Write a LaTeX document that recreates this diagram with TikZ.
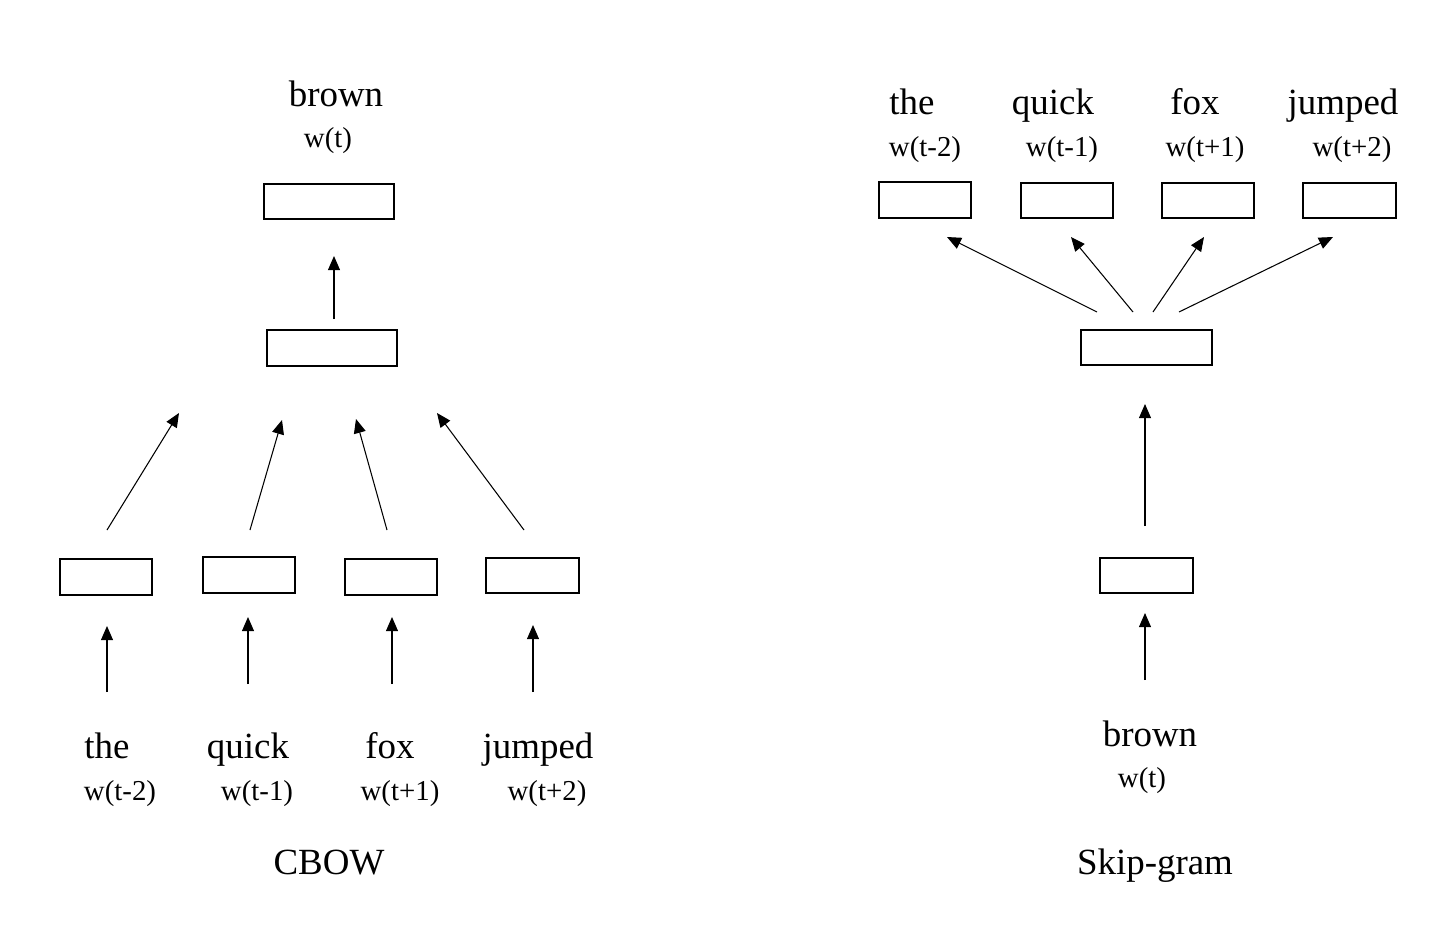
\documentclass[tikz,border=0pt]{standalone}
\usepackage{fontspec}
\setmainfont{Liberation Serif}
\usetikzlibrary{arrows.meta}
\begin{document}
\begin{tikzpicture}[x=0.01cm,y=-0.01cm,
  wbox/.style={draw,line width=0.6pt,minimum width=26.2pt,minimum height=10.2pt,inner sep=0pt,anchor=center},
  hbox/.style={draw,line width=0.6pt,minimum width=37pt,minimum height=10.2pt,inner sep=0pt,anchor=center},
  bigw/.style={font=\fontsize{10.5}{12}\selectfont,inner sep=0pt,anchor=base},
  smallw/.style={font=\fontsize{8.2}{10}\selectfont,inner sep=0pt,anchor=base},
  arr/.style={line width=0.3pt,-{Triangle[length=4pt,width=3.4pt]}}]
\useasboundingbox (0,0) rectangle (1453,951);
% ---------- CBOW ----------
\node[hbox] (ch) at (329,201.5) {};
\node[hbox] (cm) at (332,348) {};
\node[wbox] (c1) at (106,577) {};
\node[wbox] (c2) at (249,575) {};
\node[wbox] (c3) at (391,577) {};
\node[wbox] (c4) at (532.5,575.5) {};
\node[bigw] (cbrown) at (336,106) {brown};
\node[smallw] (cwt) at (328,147) {w(t)};
\node[bigw] (cthe) at (107,758) {the};
\node[bigw] (cquick) at (248,758) {quick};
\node[bigw] (cfox) at (390,758) {fox};
\node[bigw] (cjumped) at (538,758) {jumped};
\node[smallw] (cw1) at (120,800) {w(t-2)};
\node[smallw] (cw2) at (257,800) {w(t-1)};
\node[smallw] (cw3) at (400,800) {w(t+1)};
\node[smallw] (cw4) at (547,800) {w(t+2)};
\node[bigw] (cbow) at (329,874) {CBOW};
\coordinate (ca0) at (334,319); \coordinate (ca1) at (334,256);
\coordinate (cd1s) at (107,530); \coordinate (cd1e) at (179,413);
\coordinate (cd2s) at (250,530); \coordinate (cd2e) at (282,420);
\coordinate (cd3s) at (387,530); \coordinate (cd3e) at (356,419);
\coordinate (cd4s) at (524,530); \coordinate (cd4e) at (437,413);
\coordinate (cv1s) at (107,692); \coordinate (cv1e) at (107,626);
\coordinate (cv2s) at (248,684); \coordinate (cv2e) at (248,617);
\coordinate (cv3s) at (392,684); \coordinate (cv3e) at (392,617);
\coordinate (cv4s) at (533,692); \coordinate (cv4e) at (533,625);
\draw[arr] (ca0) -- (ca1);
\draw[arr] (cd1s) -- (cd1e);
\draw[arr] (cd2s) -- (cd2e);
\draw[arr] (cd3s) -- (cd3e);
\draw[arr] (cd4s) -- (cd4e);
\draw[arr] (cv1s) -- (cv1e);
\draw[arr] (cv2s) -- (cv2e);
\draw[arr] (cv3s) -- (cv3e);
\draw[arr] (cv4s) -- (cv4e);
% ---------- Skip-gram ----------
\node[wbox] (s1) at (925,200) {};
\node[wbox] (s2) at (1067,200.5) {};
\node[wbox] (s3) at (1208,200.5) {};
\node[wbox] (s4) at (1349.5,200.5) {};
\node[hbox] (sm) at (1146.5,347.5) {};
\node[wbox] (sl) at (1146.5,575.5) {};
\node[bigw] (sthe) at (912,114) {the};
\node[bigw] (squick) at (1053,114) {quick};
\node[bigw] (sfox) at (1195,114) {fox};
\node[bigw] (sjumped) at (1343,114) {jumped};
\node[smallw] (sw1) at (925,156) {w(t-2)};
\node[smallw] (sw2) at (1062,156) {w(t-1)};
\node[smallw] (sw3) at (1205,156) {w(t+1)};
\node[smallw] (sw4) at (1352,156) {w(t+2)};
\node[bigw] (sbrown) at (1150,746) {brown};
\node[smallw] (swt) at (1142,787) {w(t)};
\node[bigw] (skip) at (1155,874) {Skip-gram};
\coordinate (sd1s) at (1097,312); \coordinate (sd1e) at (947,237);
\coordinate (sd2s) at (1133,312); \coordinate (sd2e) at (1071,237);
\coordinate (sd3s) at (1153,312); \coordinate (sd3e) at (1204,237);
\coordinate (sd4s) at (1179,312); \coordinate (sd4e) at (1333,237);
\coordinate (sv1s) at (1145,526); \coordinate (sv1e) at (1145,404);
\coordinate (sv2s) at (1145,680); \coordinate (sv2e) at (1145,613);
\draw[arr] (sd1s) -- (sd1e);
\draw[arr] (sd2s) -- (sd2e);
\draw[arr] (sd3s) -- (sd3e);
\draw[arr] (sd4s) -- (sd4e);
\draw[arr] (sv1s) -- (sv1e);
\draw[arr] (sv2s) -- (sv2e);
\end{tikzpicture}
\end{document}
